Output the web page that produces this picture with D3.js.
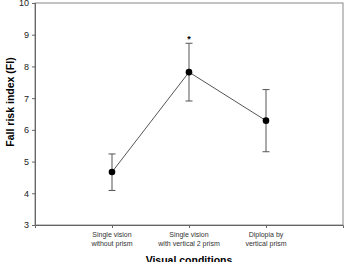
<!DOCTYPE html>
<html><head><meta charset="utf-8">
<script src="https://cdn.jsdelivr.net/npm/d3@7"></script>
<style>body{margin:0;background:#fff}svg{display:block}</style>
</head><body>
<script>
const categories = [["Single vision","without prism"],["Single vision","with vertical 2 prism"],["Diplopia by","vertical prism"]];
const means = [4.67, 7.82, 6.29];
const upper = [5.24, 8.73, 7.27];
const lower = [4.09, 6.91, 5.31];
const yTicks = [3,4,5,6,7,8,9,10];
const significance = ["", "*", ""];

const W = 347, H = 262;
const m = {left:35, right:343, top:3, bottom:225};
const svg = d3.select("body").append("svg").attr("width", W).attr("height", H);
const x = d3.scaleLinear().domain([0,4]).range([m.left, m.right]);
const y = d3.scaleLinear().domain([3,10]).range([m.bottom, m.top]);
const font = "Liberation Sans, Arial, sans-serif";

// frame
svg.append("rect").attr("x", m.left).attr("y", m.top).attr("width", m.right-m.left).attr("height", m.bottom-m.top)
  .attr("fill","none").attr("stroke","#888").attr("stroke-width",1);

const ya = svg.append("g").attr("transform",`translate(${m.left},0)`)
  .call(d3.axisLeft(y).tickValues(yTicks).tickSize(3).tickPadding(3).tickFormat(d3.format("d")));
ya.select(".domain").attr("stroke","#666");
ya.selectAll("line").attr("stroke","#666");
ya.selectAll("text").attr("font-family",font).attr("font-size",9).attr("fill","#222");

const idx = [1,2,3];
const xa = svg.append("g").attr("transform",`translate(0,${m.bottom})`)
  .call(d3.axisBottom(x).tickValues(idx).tickSize(3).tickFormat(""));
xa.select(".domain").attr("stroke","#666");
xa.selectAll("line").attr("stroke","#666");
idx.forEach((v,i)=>{
  const t = svg.append("text").attr("x", x(v)).attr("y", 237).attr("text-anchor","middle")
    .attr("font-family",font).attr("font-size",7).attr("fill","#333");
  t.append("tspan").attr("x", x(v)).attr("dy",0).text(categories[i][0]);
  t.append("tspan").attr("x", x(v)).attr("dy",8.5).text(categories[i][1]);
});

// line
svg.append("path").datum(means).attr("fill","none").attr("stroke","#555").attr("stroke-width",1)
  .attr("d", d3.line().x((d,i)=>x(idx[i])).y(d=>y(d)));

// error bars
const cap = 3.5;
means.forEach((d,i)=>{
  const cx = x(idx[i]);
  const g = svg.append("g").attr("stroke","#555").attr("stroke-width",1);
  g.append("line").attr("x1",cx).attr("x2",cx).attr("y1",y(upper[i])).attr("y2",y(lower[i]));
  g.append("line").attr("x1",cx-cap).attr("x2",cx+cap).attr("y1",y(upper[i])).attr("y2",y(upper[i]));
  g.append("line").attr("x1",cx-cap).attr("x2",cx+cap).attr("y1",y(lower[i])).attr("y2",y(lower[i]));
  svg.append("circle").attr("cx",cx).attr("cy",y(d)).attr("r",3.3).attr("fill","#000");
  if (significance[i]) svg.append("text").attr("x",cx).attr("y",y(upper[i])-1).attr("text-anchor","middle")
    .attr("font-family",font).attr("font-size",9).attr("font-weight","bold").text(significance[i]);
});

svg.append("text").attr("x", 189).attr("y", 264).attr("text-anchor","middle")
  .attr("font-family",font).attr("font-size",10.5).attr("font-weight","bold").text("Visual conditions");
svg.append("text").attr("transform","translate(14,102) rotate(-90)").attr("text-anchor","middle")
  .attr("font-family",font).attr("font-size",10.5).attr("font-weight","bold").text("Fall risk index (FI)");
</script>
</body></html>
